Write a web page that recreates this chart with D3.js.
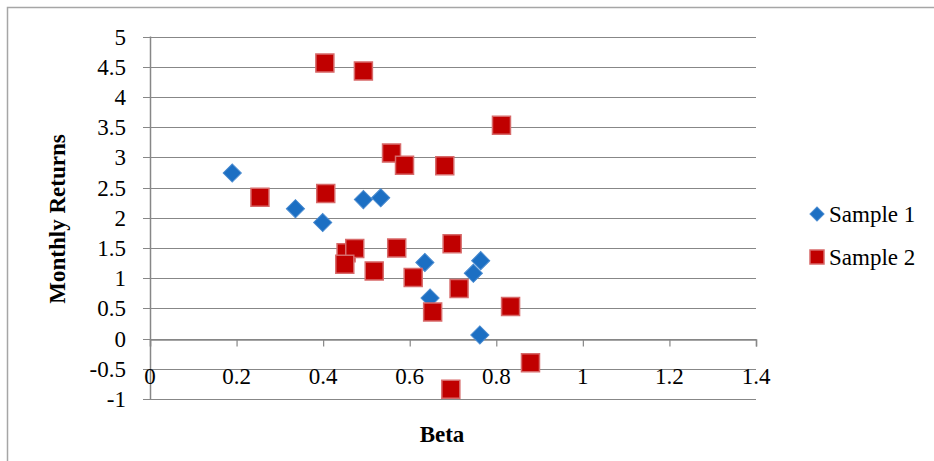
<!DOCTYPE html>
<html>
<head>
<meta charset="utf-8">
<script src="https://cdn.jsdelivr.net/npm/d3@7"></script>
<style>
  body { margin: 0; background: #fff; }
  text { font-family: "Liberation Serif", "Times New Roman", serif; fill: #000; }
</style>
</head>
<body>
<div id="chart"></div>
<script>
/** Beta vs monthly returns scatter *******************/

// Sample 1 (blue diamonds)
var sample1Beta = [0.190, 0.336, 0.399, 0.493, 0.533, 0.635, 0.647, 0.747, 0.764, 0.762];
var sample1Ret  = [2.74, 2.15, 1.92, 2.30, 2.33, 1.26, 0.67, 1.08, 1.29, 0.06];

// Sample 2 (red squares), in drawing order
var sample2Beta = [0.404, 0.493, 0.812, 0.558, 0.588, 0.681, 0.406, 0.254, 0.453, 0.473,
                   0.450, 0.570, 0.518, 0.608, 0.698, 0.714, 0.653, 0.833, 0.879, 0.695];
var sample2Ret  = [4.56, 4.43, 3.53, 3.07, 2.87, 2.86, 2.40, 2.34, 1.42, 1.49,
                   1.23, 1.50, 1.12, 1.01, 1.57, 0.83, 0.44, 0.53, -0.40, -0.84];

var xTicks = [0, 0.2, 0.4, 0.6, 0.8, 1, 1.2, 1.4];
var yTicks = [-1, -0.5, 0, 0.5, 1, 1.5, 2, 2.5, 3, 3.5, 4, 4.5, 5];
var seriesNames = ["Sample 1", "Sample 2"];

var width = 934;
var height = 461;
var fontSize = 23;
var gridColor = "#878787";

var svg = d3.select("#chart").append("svg")
    .attr("width", width)
    .attr("height", height);

// chart frame (cut off at right and bottom like the original)
svg.append("rect")
    .attr("x", 7.5).attr("y", 7.5)
    .attr("width", width + 20).attr("height", height + 20)
    .style("fill", "none")
    .style("stroke", "#a6a6a6")
    .style("stroke-width", 1.5);

var x = d3.scaleLinear().domain([0, 1.4]).range([150, 756]);
var y = d3.scaleLinear().domain([-1, 5]).range([399, 36.5]);

// horizontal gridlines, extended a little left as outside ticks
svg.selectAll(".grid")
    .data(yTicks)
  .enter().append("line")
    .attr("class", "grid")
    .attr("x1", x(0) - 7)
    .attr("x2", x(1.4))
    .attr("y1", function(d) { return Math.round(y(d)) + 0.5; })
    .attr("y2", function(d) { return Math.round(y(d)) + 0.5; })
    .style("stroke", gridColor)
    .style("stroke-width", 1.2);

// y axis line
svg.append("line")
    .attr("x1", x(0) + 0.5).attr("x2", x(0) + 0.5)
    .attr("y1", y(5)).attr("y2", y(-1))
    .style("stroke", gridColor)
    .style("stroke-width", 1.5);

// x axis at zero with ticks pointing down
var xAxis = d3.axisBottom(x)
    .tickValues(xTicks)
    .tickSize(7)
    .tickFormat("");
var xAxisG = svg.append("g")
    .attr("transform", "translate(0," + (Math.round(y(0)) + 0.5) + ")")
    .call(xAxis);
xAxisG.select(".domain").style("stroke", gridColor).style("stroke-width", 1.5);
xAxisG.selectAll(".tick line").style("stroke", gridColor).style("stroke-width", 1.2);

// x tick labels sit low, between -0.5 and -1
svg.selectAll(".xlabel")
    .data(xTicks)
  .enter().append("text")
    .attr("class", "xlabel")
    .attr("x", function(d) { return x(d); })
    .attr("y", 384)
    .attr("text-anchor", "middle")
    .style("font-size", fontSize + "px")
    .text(function(d) { return d3.format("")(d); });

// y tick labels
svg.selectAll(".ylabel")
    .data(yTicks)
  .enter().append("text")
    .attr("class", "ylabel")
    .attr("x", 126)
    .attr("y", function(d) { return y(d) + 8; })
    .attr("text-anchor", "end")
    .style("font-size", fontSize + "px")
    .text(function(d) { return d; });

// axis titles
svg.append("text")
    .attr("transform", "translate(65,219) rotate(-90)")
    .attr("text-anchor", "middle")
    .style("font-size", fontSize + "px")
    .style("font-weight", "bold")
    .text("Monthly Returns");

svg.append("text")
    .attr("x", 442)
    .attr("y", 442)
    .attr("text-anchor", "middle")
    .style("font-size", fontSize + "px")
    .style("font-weight", "bold")
    .text("Beta");

// markers
var diamond = d3.symbol().type(d3.symbolSquare).size(165);
var square = d3.symbol().type(d3.symbolSquare).size(324);

var s1 = d3.zip(sample1Beta, sample1Ret);
var s2 = d3.zip(sample2Beta, sample2Ret);

svg.selectAll(".s1")
    .data(s1)
  .enter().append("path")
    .attr("class", "s1")
    .attr("d", diamond)
    .attr("transform", function(d) {
        return "translate(" + x(d[0]) + "," + y(d[1]) + ") rotate(45)";
    })
    .style("fill", "#1c6fc3")
    .style("stroke", "#4a8bd0")
    .style("stroke-width", 1);

svg.selectAll(".s2")
    .data(s2)
  .enter().append("path")
    .attr("class", "s2")
    .attr("d", square)
    .attr("transform", function(d) {
        return "translate(" + x(d[0]) + "," + y(d[1]) + ")";
    })
    .style("fill", "#c00000")
    .style("stroke", "#d76a6a")
    .style("stroke-width", 1.5);

// legend
var legend = svg.append("g").attr("class", "legend");

legend.append("path")
    .attr("d", d3.symbol().type(d3.symbolSquare).size(100))
    .attr("transform", "translate(817,214) rotate(45)")
    .style("fill", "#1c6fc3")
    .style("stroke", "#4a8bd0");

legend.append("path")
    .attr("d", d3.symbol().type(d3.symbolSquare).size(196))
    .attr("transform", "translate(817,257)")
    .style("fill", "#c00000")
    .style("stroke", "#d76a6a")
    .style("stroke-width", 1.5);

legend.selectAll(".legtext")
    .data(seriesNames)
  .enter().append("text")
    .attr("class", "legtext")
    .attr("x", 829)
    .attr("y", function(d, i) { return 222 + i * 43; })
    .style("font-size", fontSize + "px")
    .text(function(d) { return d; });
</script>
</body>
</html>
